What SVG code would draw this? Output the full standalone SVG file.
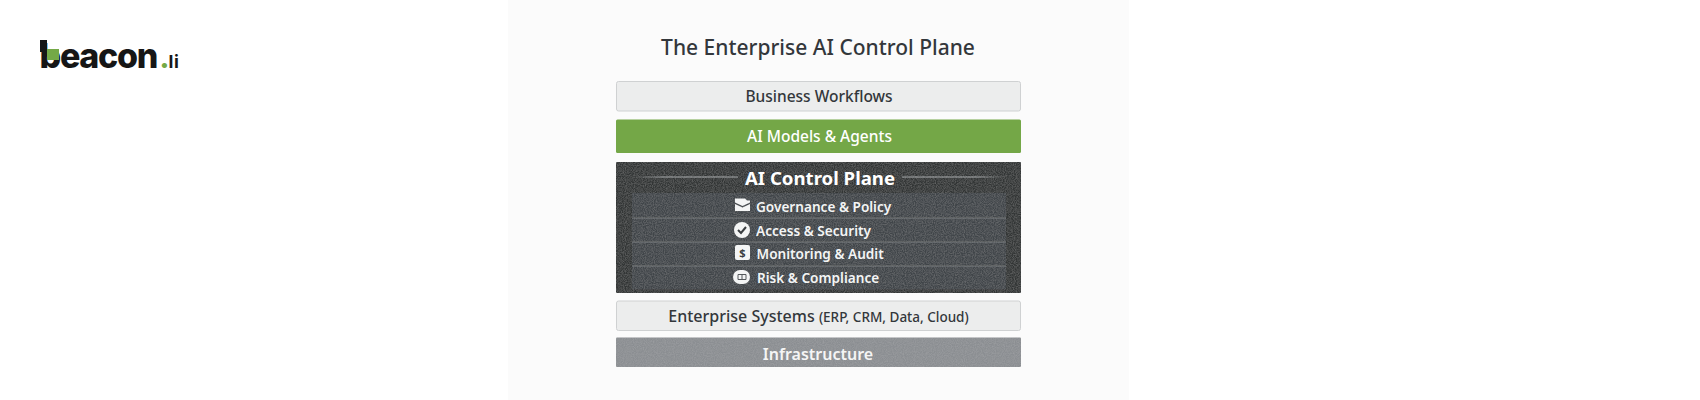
<svg xmlns="http://www.w3.org/2000/svg" width="1700" height="400" viewBox="0 0 1700 400">
<defs>
<filter id="grain" x="0" y="0" width="100%" height="100%"><feTurbulence type="fractalNoise" baseFrequency="0.9" numOctaves="2" seed="4" result="n"/><feColorMatrix in="n" type="matrix" values="0 0 0 0 1  0 0 0 0 1  0 0 0 0 1  0.16 0 0 0 -0.05"/><feComposite in2="SourceGraphic" operator="in"/><feMerge><feMergeNode in="SourceGraphic"/><feMergeNode/></feMerge></filter>
<linearGradient id="fadeL"><stop offset="0" stop-color="#a8abad" stop-opacity="0"/><stop offset=".3" stop-color="#a8abad"/><stop offset="1" stop-color="#a8abad"/></linearGradient>
<linearGradient id="fadeR"><stop offset="0" stop-color="#a8abad"/><stop offset=".7" stop-color="#a8abad"/><stop offset="1" stop-color="#a8abad" stop-opacity="0"/></linearGradient>
</defs>
<style>
text{font-family:"Noto Sans","Open Sans",sans-serif;text-anchor:middle}
.light{fill:#eceded;stroke:#cfd1d2;stroke-width:1}
.lt{fill:#33373b;font-size:15.500px;font-weight:500}
.row{fill:#414548}
.sep{stroke:#7c8083;stroke-width:1}
.rt{fill:#f4f5f5;font-size:13.600px;font-weight:600;text-anchor:start}
</style>
<rect width="1700" height="400" fill="#fff"/>
<rect id="panel" x="508" y="0" width="621" height="400" fill="#fbfbfb"/>
<g id="logo">
<text x="39.500" y="68" style="font-family:Inter,sans-serif;font-size:34px;font-weight:800;text-anchor:start;letter-spacing:-1.300px" fill="#161616">beacon<tspan dx="2.500" fill="#74a947" font-size="28" letter-spacing="0">.</tspan><tspan dx="-1" font-size="18" font-weight="700" letter-spacing="0.800">li</tspan></text>
<rect x="40" y="40" width="7" height="12" fill="#161616"/>
<rect x="47" y="49" width="12" height="11" fill="#74a947"/>
</g>
<text id="title" x="818" y="54.500" style="font-size:21px;font-weight:500" fill="#33373b">The Enterprise AI Control Plane</text>
<g id="business">
<rect class="light" x="616.500" y="81.500" width="404" height="29.500" rx="2"/>
<text class="lt" x="819" y="102">Business Workflows</text>
</g>
<g id="models">
<rect x="616" y="119.500" width="405" height="33.500" rx="1.500" fill="#74a747"/>
<text x="819.500" y="141.500" style="font-size:15.500px;font-weight:500" fill="#fff">AI Models &amp; Agents</text>
</g>
<g id="control">
<rect x="616" y="162" width="405" height="131" rx="1" fill="#303436" filter="url(#grain)"/>
<rect x="632" y="176.500" width="106" height="1" fill="url(#fadeL)"/>
<rect x="902" y="176.500" width="106" height="1" fill="url(#fadeR)"/>
<text x="820" y="184.500" style="font-size:18.600px;font-weight:700" fill="#fff">AI Control Plane</text>
<g id="governance">
<rect class="row" x="632" y="193" width="374" height="24" filter="url(#grain)"/>
<path fill="#f4f5f5" d="M735 198.500h10l2 2h3v2l-7.500 3.500-7.500-3.500zM735 204l7.500 3.500 7.500-3.500v7h-15z"/>
<text class="rt" x="756" y="211.500">Governance &amp; Policy</text>
</g>
<g id="access">
<rect class="row" x="632" y="218" width="374" height="23" filter="url(#grain)"/>
<line class="sep" x1="632" y1="218" x2="1006" y2="218"/>
<circle cx="742" cy="230" r="8" fill="#f4f5f5"/>
<path d="M738 230l3 3 5-6" fill="none" stroke="#3a3e41" stroke-width="2"/>
<text class="rt" x="756" y="235.500">Access &amp; Security</text>
</g>
<g id="monitoring">
<rect class="row" x="632" y="242" width="374" height="23" filter="url(#grain)"/>
<line class="sep" x1="632" y1="242" x2="1006" y2="242"/>
<rect x="735" y="245" width="15" height="15" rx="2" fill="#f4f5f5"/>
<text x="742.500" y="257" style="font-size:11px;font-weight:700" fill="#3a3e41">$</text>
<text class="rt" x="756.500" y="258.500">Monitoring &amp; Audit</text>
</g>
<g id="risk">
<rect class="row" x="632" y="266" width="374" height="23.500" filter="url(#grain)"/>
<line class="sep" x1="632" y1="266" x2="1006" y2="266"/>
<rect x="733" y="270" width="17" height="14" rx="7" fill="#f4f5f5"/>
<path d="M738 274.500h8v5h-8zM742 274.500v5" fill="none" stroke="#55595c" stroke-width="1"/>
<text class="rt" x="757" y="282.500">Risk &amp; Compliance</text>
</g>
</g>
<g id="enterprise">
<rect class="light" x="616.500" y="301" width="404" height="29.500" rx="2"/>
<text class="lt" x="818.500" y="321.500" style="font-size:16px">Enterprise Systems <tspan style="font-size:13.500px">(ERP, CRM, Data, Cloud)</tspan></text>
</g>
<g id="infrastructure">
<rect x="616" y="337.500" width="405" height="29.500" rx="1" fill="#8b8e92" filter="url(#grain)"/>
<text x="818" y="359.500" style="font-size:16px;font-weight:600" fill="#f5f5f5">Infrastructure</text>
</g>
</svg>
